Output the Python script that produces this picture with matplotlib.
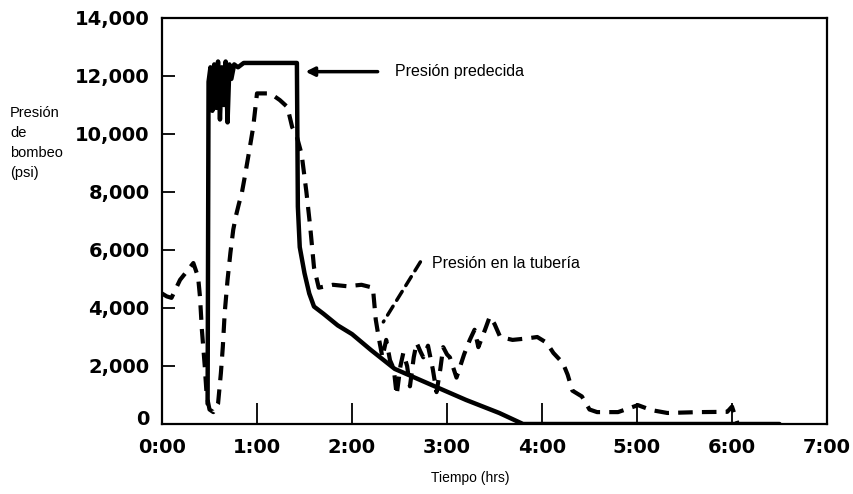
import matplotlib
matplotlib.use("Agg")
import matplotlib.pyplot as plt
import matplotlib.transforms as mtransforms
from matplotlib.ticker import FixedLocator

# Predicted pumping pressure (hours, psi)
pred_t = [0.48, 0.49, 0.51, 0.53, 0.55, 0.57, 0.59, 0.61, 0.63, 0.65, 0.67,
          0.69, 0.71, 0.73, 0.76, 0.80, 0.86, 1.42, 1.43, 1.45, 1.50, 1.55,
          1.60, 1.70, 1.85, 2.00, 2.20, 2.45, 2.80, 3.20, 3.55, 3.80, 6.50]
pred_p = [700, 11800, 12300, 10800, 12400, 10900, 12500, 10500, 12300, 11000,
          12500, 10400, 12400, 11900, 12400, 12300, 12450, 12450, 7500, 6100,
          5200, 4500, 4050, 3800, 3400, 3100, 2550, 1900, 1400, 830, 380, 0, 0]

# Measured tubing pressure (hours, psi)
tub_t = [0.00, 0.05, 0.10, 0.19, 0.27, 0.33, 0.38, 0.40, 0.42, 0.45, 0.47,
         0.50, 0.54, 0.59, 0.62, 0.64, 0.66, 0.69, 0.72, 0.75, 0.78, 0.81,
         0.84, 0.87, 0.92, 0.96, 1.00, 1.03, 1.14, 1.24, 1.32, 1.37, 1.42,
         1.47, 1.52, 1.56, 1.60, 1.65, 1.80, 1.95, 2.10, 2.22, 2.25, 2.28,
         2.32, 2.36, 2.40, 2.44, 2.47, 2.51, 2.54, 2.58, 2.61, 2.65, 2.68,
         2.72, 2.75, 2.80, 2.85, 2.89, 2.93, 2.96, 3.00, 3.03, 3.07, 3.10,
         3.14, 3.18, 3.24, 3.29, 3.33, 3.40, 3.45, 3.50, 3.56, 3.69, 3.84,
         3.95, 4.05, 4.12, 4.22, 4.27, 4.32, 4.42, 4.50, 4.58, 4.80, 5.01,
         5.15, 5.32, 5.65, 5.95, 6.00, 6.03, 6.06]
tub_p = [4500, 4400, 4350, 4970, 5300, 5550, 5070, 4380, 3240, 2000, 1000,
         500, 410, 700, 1760, 2650, 3830, 4970, 5900, 6700, 7200, 7600,
         7960, 8500, 9450, 10240, 11400, 11400, 11400, 11170, 10930, 10240,
         9900, 9300, 8000, 6800, 5400, 4700, 4800, 4750, 4800, 4700, 3600,
         3000, 2300, 2900, 2200, 1900, 1000, 2000, 2450, 2000, 1300, 2300,
         2800, 2500, 2300, 2700, 1900, 1100, 1900, 2650, 2400, 2300, 1900,
         1600, 2000, 2400, 2900, 3250, 2650, 3250, 3700, 3450, 3000, 2900,
         2950, 3000, 2800, 2450, 2100, 1700, 1150, 950, 500, 410, 410, 650,
         480, 380, 410, 420, 600, 300, 0]

x_ticks = [0, 1, 2, 3, 4, 5, 6, 7]
x_labels = ["0:00", "1:00", "2:00", "3:00", "4:00", "5:00", "6:00", "7:00"]
y_ticks = [0, 2000, 4000, 6000, 8000, 10000, 12000, 14000]
y_labels = ["0", "2,000", "4,000", "6,000", "8,000", "10,000", "12,000", "14,000"]

plt.rcParams["font.family"] = ["Liberation Sans", "DejaVu Sans"]

fig = plt.figure(figsize=(8.54, 4.94), dpi=100)
ax = fig.add_axes([162 / 854, 1 - 424 / 494, (827 - 162) / 854, (424 - 18) / 494])

ax.plot(pred_t, pred_p, color="black", lw=3.2, solid_joinstyle="round",
        solid_capstyle="round", zorder=3)
ax.plot(tub_t, tub_p, color="black", lw=3.0, dashes=(3.5, 2.2), zorder=2)

ax.set_xlim(0, 7)
ax.set_ylim(0, 14000)
ax.xaxis.set_major_locator(FixedLocator(x_ticks))
ax.yaxis.set_major_locator(FixedLocator(y_ticks))
tick_font = dict(family="DejaVu Sans", weight="bold", size=14)
ax.set_xticklabels(x_labels, fontdict=tick_font)
ax.set_yticklabels(y_labels, fontdict=tick_font)
ax.tick_params(axis="x", direction="in", length=15, width=1.3, pad=10)
ax.tick_params(axis="y", direction="in", length=9, width=1.3, pad=9)
for s in ax.spines.values():
    s.set_linewidth(1.6)

# lift the zero label slightly so it clears the time labels
zero_lbl = ax.get_yticklabels()[0]
zero_lbl.set_transform(zero_lbl.get_transform() +
                       mtransforms.ScaledTranslation(0, 5 / 72, fig.dpi_scale_trans))

# Annotations
ax.annotate("", xy=(1.51, 12150), xytext=(2.27, 12150),
            arrowprops=dict(arrowstyle="-|>", lw=2.5, color="black",
                            mutation_scale=13, shrinkA=0, shrinkB=0))
ax.text(2.45, 12150, "Presión predecida", fontsize=11.5, va="center", ha="left")

ax.annotate("", xy=(2.33, 3520), xytext=(2.72, 5590),
            arrowprops=dict(arrowstyle="-", lw=2.5, color="black",
                            linestyle=(0, (3, 2)), shrinkA=0, shrinkB=0))
ax.text(2.84, 5550, "Presión en la tubería", fontsize=11.5, va="center", ha="left")

fig.text(10 / 854, 1 - 106 / 494, "Presión\nde\nbombeo\n(psi)", fontsize=10.5,
         va="top", ha="left", linespacing=1.55)
fig.text(470 / 854, 1 - 478 / 494, "Tiempo (hrs)", fontsize=10,
         va="center", ha="center")

fig.savefig("out.png", dpi=100)
